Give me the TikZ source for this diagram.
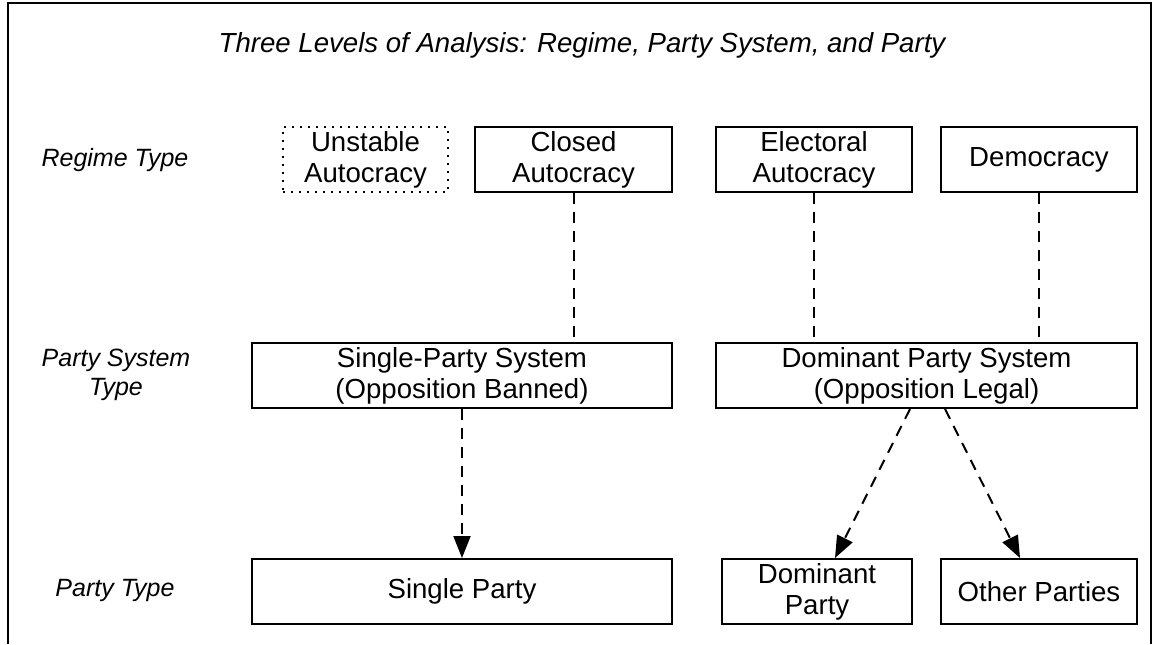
\documentclass[tikz,border=0pt]{standalone}
\usepackage{fontspec}
\setmainfont{Liberation Sans}
\usetikzlibrary{arrows.meta,calc}
\begin{document}
\begin{tikzpicture}[x=0.5pt,y=-0.5pt,
  every node/.style={font=\fontsize{13.8}{15.6}\selectfont, align=center},
  box/.style={draw, line width=1pt, inner sep=0pt, minimum height=32.5pt},
  dotbox/.style={box, dash pattern=on 1.1pt off 2.9pt},
  lbl/.style={font=\fontsize{12.5}{14.5}\selectfont\itshape},
  ttl/.style={font=\fontsize{13.8}{15.6}\selectfont\itshape},
  conn/.style={line width=1pt, dash pattern=on 5.5pt off 4pt},
  arr/.style={conn, -{Triangle[length=11pt,width=8.5pt]}}]
\useasboundingbox (0,0) rectangle (1154,644);
\draw[line width=0.9pt] (8,644) -- (8,3) -- (1151,3) -- (1151,644);
\node[ttl] (title) at (582,45) {Three Levels of Analysis: Regime, Party System, and Party};
\node[lbl] (l1) at (115,160) {Regime Type};
\node[lbl] (l2) at (116,375) {Party System\\Type};
\node[lbl] (l3) at (115,590) {Party Type};
% regime
\node[dotbox, minimum width=82.5pt] (ua) at (365.5,159.5) {Unstable\\Autocracy};
\node[box, minimum width=98.5pt] (ca) at (573.5,159.5) {Closed\\Autocracy};
\node[box, minimum width=98pt] (ea) at (814,159.5) {Electoral\\Autocracy};
\node[box, minimum width=98pt] (de) at (1039,159.5) {Democracy};
% party system
\node[box, minimum width=210pt] (sps) at (462,375.5) {Single-Party System\\(Opposition Banned)};
\node[box, minimum width=210.5pt] (dps) at (926.5,375.5) {Dominant Party System\\(Opposition Legal)};
% party
\node[box, minimum width=210pt] (sp) at (462,591.5) {Single Party};
\node[box, minimum width=95pt] (dp) at (817,591.5) {Dominant\\Party};
\node[box, minimum width=98pt] (op) at (1039,591.5) {Other Parties};
% connectors
\draw[conn] (ca.south) -- (ca.south |- sps.north);
\draw[conn] (ea.south) -- (ea.south |- dps.north);
\draw[conn] (de.south) -- (de.south |- dps.north);
\draw[arr] (sps.south) -- (sp.north);
\draw[arr] ($(dps.south)+(-16.5,0)$) -- ($(dp.north)+(18,0)$);
\draw[arr] ($(dps.south)+(18.5,0)$) -- ($(op.north)+(-19,0)$);
\end{tikzpicture}
\end{document}
